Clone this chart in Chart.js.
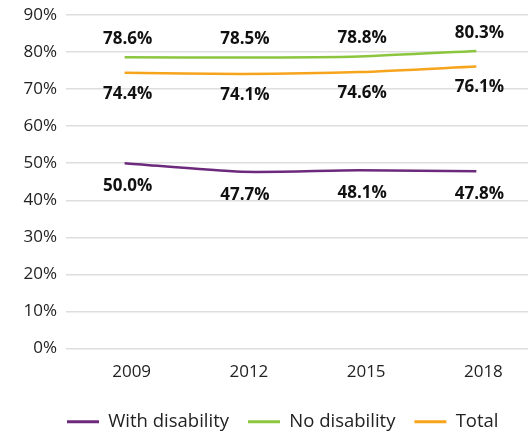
<!DOCTYPE html>
<html>
<head>
<meta charset="utf-8">
<script src="https://cdn.jsdelivr.net/npm/chart.js@4"></script>
<style>
  html, body { margin: 0; padding: 0; background: #fff; overflow: hidden; }
  #wrap { width: 535px; height: 432px; }
</style>
</head>
<body>
<div id="wrap"><canvas id="employmentChart"></canvas></div>
<script>
// Tasa de empleo por año
const years = ['2009', '2012', '2015', '2018'];
const withDisability = [50.0, 47.7, 48.1, 47.8];
const noDisability = [78.6, 78.5, 78.8, 80.3];
const total = [74.4, 74.1, 74.6, 76.1];
const yTicks = [0, 10, 20, 30, 40, 50, 60, 70, 80, 90];

const FONT = "'Open Sans', sans-serif";

// Etiquetas de valor sobre/bajo cada punto
const valueLabels = {
  id: 'valueLabels',
  afterDatasetsDraw(chart) {
    const ctx = chart.ctx;
    ctx.save();
    ctx.font = 'bold 17px ' + FONT;
    ctx.fillStyle = '#111';
    ctx.textAlign = 'center';
    ctx.textBaseline = 'middle';
    chart.data.datasets.forEach((ds, i) => {
      const meta = chart.getDatasetMeta(i);
      meta.data.forEach((pt, j) => {
        ctx.fillText(ds.data[j].toFixed(1) + '%', pt.x + 3, pt.y + ds.labelShift);
      });
    });
    ctx.restore();
  }
};

// Mover la leyenda para que arranque bajo el área del gráfico
const legendShift = {
  id: 'legendShift',
  afterLayout(chart) {
    chart.legend.left += 48;
    chart.legend.right += 48;
  }
};

const ctx = document.getElementById('employmentChart').getContext('2d');
new Chart(ctx, {
  type: 'line',
  data: {
    labels: years,
    datasets: [
      { label: 'With disability', data: withDisability, borderColor: '#6d2a7c', backgroundColor: '#6d2a7c', labelShift: 23 },
      { label: 'No disability', data: noDisability, borderColor: '#8cc63f', backgroundColor: '#8cc63f', labelShift: -18 },
      { label: 'Total', data: total, borderColor: '#f7a41d', backgroundColor: '#f7a41d', labelShift: 21 }
    ].map(d => Object.assign(d, { borderWidth: 2.5, pointRadius: 0, tension: 0.25, fill: false }))
  },
  options: {
    responsive: true,
    maintainAspectRatio: false,
    animation: false,
    layout: { padding: { left: 0, top: 15, right: 0, bottom: -9 } },
    plugins: {
      tooltip: { enabled: false },
      legend: {
        position: 'bottom',
        align: 'start',
        labels: {
          boxWidth: 32,
          boxHeight: 3,
          padding: 19,
          color: '#222',
          font: { family: FONT, size: 18.5 },
          generateLabels(chart) {
            return Chart.defaults.plugins.legend.labels.generateLabels(chart).map(l => Object.assign(l, { lineWidth: 0 }));
          }
        }
      }
    },
    scales: {
      x: {
        offset: true,
        grid: { display: false, drawTicks: false },
        border: { display: false },
        ticks: { color: '#222', font: { family: FONT, size: 17 }, padding: 13, labelOffset: 7 },
        afterFit(scale) { scale.height = 45; }
      },
      y: {
        min: 0,
        max: 90,
        afterBuildTicks(scale) { scale.ticks = yTicks.map(v => ({ value: v })); },
        grid: { color: '#dedede', lineWidth: 1.5, drawTicks: false },
        border: { display: false },
        ticks: { color: '#222', font: { family: FONT, size: 17 }, padding: 9, callback: v => v + '%' },
        afterFit(scale) {
          scale.width = 66;
          scale.paddingTop = 0;
          scale.paddingBottom = 0;
        }
      }
    }
  },
  plugins: [valueLabels, legendShift]
});
</script>
</body>
</html>
